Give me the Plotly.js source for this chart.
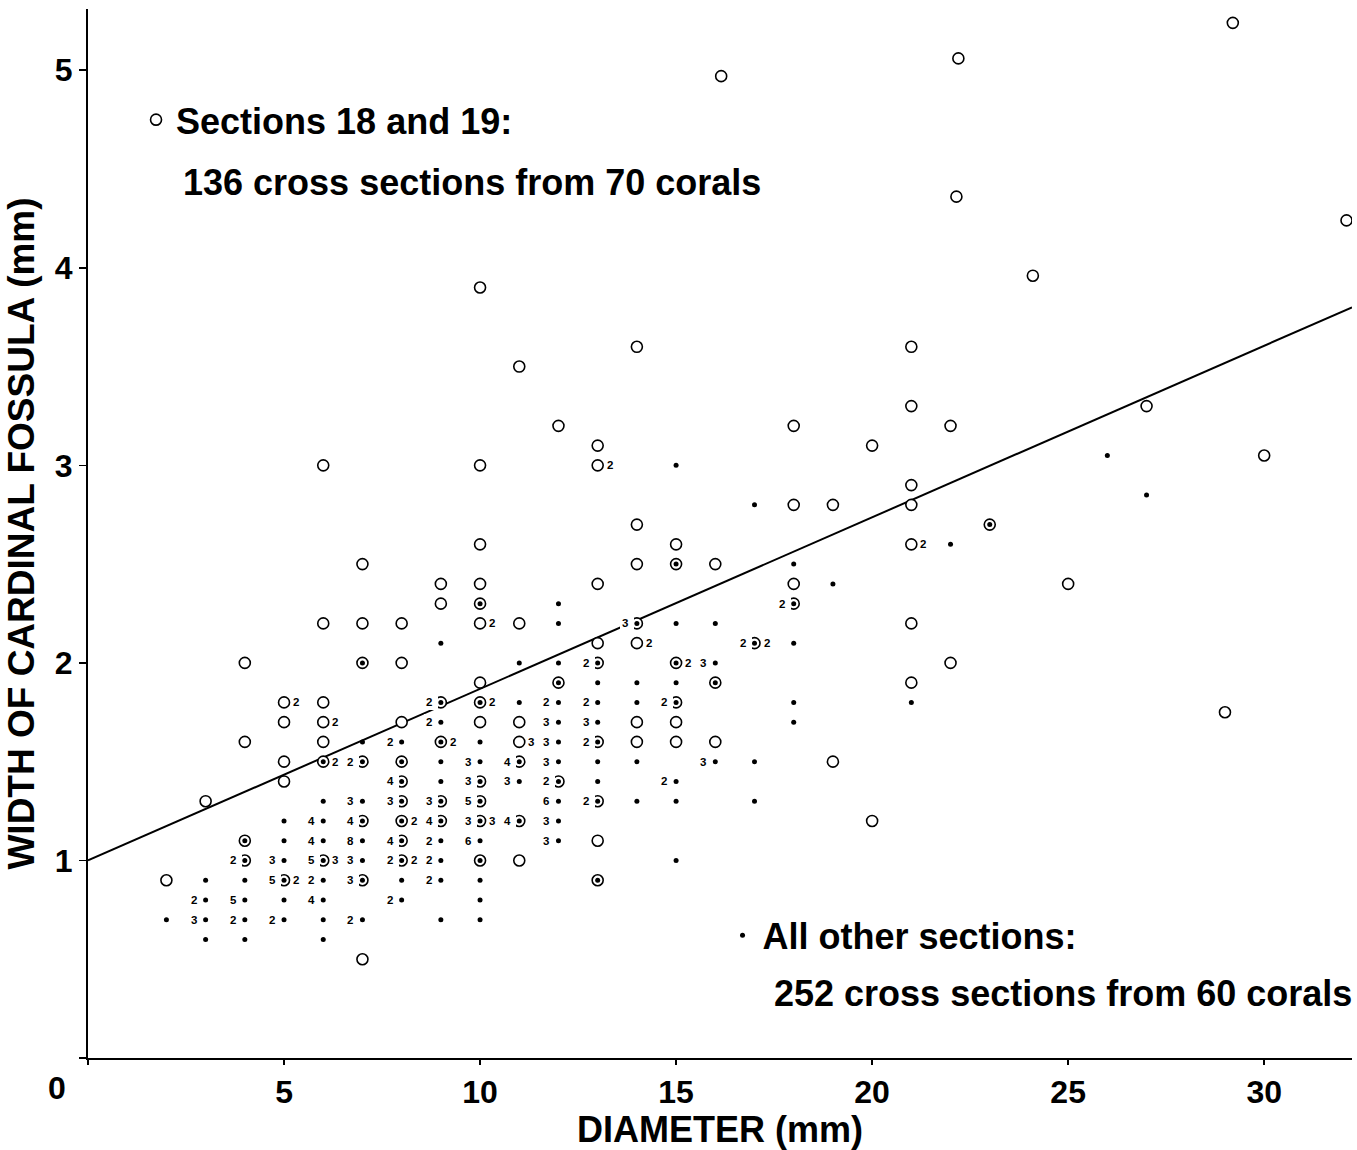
<!DOCTYPE html>
<html><head><meta charset="utf-8">
<script src="https://cdn.plot.ly/plotly-3.0.1.min.js"></script>
<style>html,body{margin:0;padding:0;background:#fff}</style>
</head><body>
<div id="chart" style="width:1357px;height:1150px"></div>
<script>
// Sections 18 and 19 (open circles): diameter (mm), width of cardinal fossula (mm), number of sections at that point
const sec1819X = [
  2,
  3,
  4,4,4,4,
  5,5,5,5,5,
  6,6,6,6,6,6,6,
  7,7,7,7,7,7,7,
  8,8,8,8,8,8,8,8,8,
  9,9,9,9,9,9,
  10,10,10,10,10,10,10,10,10,10,10,10,10,
  11,11,11,11,11,11,11,
  12,12,12,
  13,13,13,13,13,13,13,13,13,
  14,14,14,14,14,14,14,
  15,15,15,15,15,15,
  16.15,16,16,16,
  17,
  18,18,18,18,
  19,19,
  20,20,
  21,21,21,21,21,21,21,
  22.2,22.15,22,22,
  23, 24.1, 25, 27, 29.2, 29, 30, 32.1
];
const sec1819Y = [
  0.9,
  1.3,
  2.0,1.6,1.1,1.0,
  1.8,1.7,1.5,1.4,0.9,
  3.0,2.2,1.8,1.7,1.6,1.5,1.0,
  2.5,2.2,2.0,1.5,1.2,0.9,0.5,
  2.2,2.0,1.7,1.5,1.4,1.3,1.2,1.1,1.0,
  2.4,2.3,1.8,1.6,1.3,1.2,
  3.9,3.0,2.6,2.4,2.3,2.2,1.9,1.8,1.7,1.4,1.3,1.2,1.0,
  3.5,2.2,1.7,1.6,1.5,1.2,1.0,
  3.2,1.9,1.4,
  3.1,3.0,2.4,2.1,2.0,1.6,1.3,1.1,0.9,
  3.6,2.7,2.5,2.2,2.1,1.7,1.6,
  2.6,2.5,2.0,1.8,1.7,1.6,
  4.97,2.5,1.9,1.6,
  2.1,
  3.2,2.8,2.4,2.3,
  2.8,1.5,
  3.1,1.2,
  3.6,3.3,2.9,2.8,2.6,2.2,1.9,
  5.06,4.36,3.2,2.0,
  2.7, 3.96, 2.4, 3.3, 5.24, 1.75, 3.05, 4.24
];
const sec1819N = [
  1,
  1,
  1,1,1,1,
  2,1,1,1,2,
  1,1,1,2,1,2,3,
  1,1,1,1,1,1,1,
  1,1,1,1,1,1,2,1,2,
  1,1,1,2,1,1,
  1,1,1,1,1,2,1,2,1,1,1,3,1,
  1,1,1,3,1,1,1,
  1,1,1,
  1,2,1,1,1,1,1,1,1,
  1,1,1,1,2,1,1,
  1,1,2,1,1,1,
  1,1,1,1,
  2,
  1,1,1,1,
  1,1,
  1,1,
  1,1,1,1,2,1,1,
  1,1,1,1,
  1,1,1,1,1,1,1,1
];

// All other sections (dots)
const otherX = [
  2,
  3,3,3,3,
  4,4,4,4,4,4,
  5,5,5,5,5,5,
  6,6,6,6,6,6,6,6,6,
  7,7,7,7,7,7,7,7,7,
  8,8,8,8,8,8,8,8,8,
  9,9,9,9,9,9,9,9,9,9,9,9,
  10,10,10,10,10,10,10,10,10,10,10,10,
  11,11,11,11,11,
  12,12,12,12,12,12,12,12,12,12,12,12,
  13,13,13,13,13,13,13,13,13,
  14,14,14,14,14,
  15,15,15,15,15,15,15,15,15,
  16,16,16,16,
  17,17,17,17,
  18,18,18,18,18,
  19, 21, 22, 23, 26, 27
];
const otherY = [
  0.7,
  0.9,0.8,0.7,0.6,
  1.1,1.0,0.9,0.8,0.7,0.6,
  1.2,1.1,1.0,0.9,0.8,0.7,
  1.5,1.3,1.2,1.1,1.0,0.9,0.8,0.7,0.6,
  2.0,1.6,1.5,1.3,1.2,1.1,1.0,0.9,0.7,
  1.6,1.5,1.4,1.3,1.2,1.1,1.0,0.9,0.8,
  2.1,1.8,1.7,1.6,1.5,1.4,1.3,1.2,1.1,1.0,0.9,0.7,
  2.3,1.8,1.6,1.5,1.4,1.3,1.2,1.1,1.0,0.9,0.8,0.7,
  2.0,1.8,1.5,1.4,1.2,
  2.3,2.2,2.0,1.9,1.8,1.7,1.6,1.5,1.4,1.3,1.2,1.1,
  2.0,1.9,1.8,1.7,1.6,1.5,1.4,1.3,0.9,
  2.2,1.9,1.8,1.5,1.3,
  3.0,2.5,2.2,2.0,1.9,1.8,1.4,1.3,1.0,
  2.2,2.0,1.9,1.5,
  2.8,2.1,1.5,1.3,
  2.5,2.3,2.1,1.8,1.7,
  2.4, 1.8, 2.6, 2.7, 3.05, 2.85
];
const otherN = [
  1,
  1,2,3,1,
  1,2,1,5,2,1,
  1,1,3,5,1,2,
  1,1,4,4,5,2,4,1,1,
  1,1,2,3,4,8,3,3,2,
  2,1,4,3,1,4,2,1,2,
  1,2,2,1,1,1,3,4,2,2,2,1,
  1,1,1,3,3,5,3,6,1,1,1,1,
  1,1,4,3,4,
  1,1,1,1,2,3,3,3,2,6,3,3,
  2,1,2,3,2,1,1,2,1,
  3,1,1,1,1,
  1,1,1,1,1,2,2,1,1,
  1,3,1,3,
  1,2,1,1,
  1,2,1,1,1,
  1, 1, 1, 1, 1, 1
];

// Fitted regression line
const fitX = [0, 32.24];
const fitY = [1.0, 3.8];

// Axis ticks
const xTickVals = [0, 5, 10, 15, 20, 25, 30];
const xTickText = ['', '5', '10', '15', '20', '25', '30'];
const yTickVals = [0, 1, 2, 3, 4, 5];
const yTickText = ['', '1', '2', '3', '4', '5'];

// Texts
const xTitle = 'DIAMETER (mm)';
const yTitle = 'WIDTH OF CARDINAL FOSSULA (mm)';
const sec1819Name = 'Sections 18 and 19:';
const sec1819Note = '136 cross sections from 70 corals';
const otherName = 'All other sections:';
const otherNote = '252 cross sections from 60 corals';
const originLabel = '0';

const FONT = 'Liberation Sans, Arial, Helvetica, sans-serif';
const bigFont = {family: FONT, size: 36, color: '#000', weight: 'bold'};
const yTitleFont = {family: FONT, size: 37, color: '#000', weight: 'bold'};
const tickFont = {family: FONT, size: 32, color: '#000', weight: 'bold'};

const traces = [
  {
    type: 'scatter', mode: 'lines', x: fitX, y: fitY,
    line: {color: '#000', width: 2}, showlegend: false, hoverinfo: 'skip'
  },
  {
    type: 'scatter', mode: 'markers', x: sec1819X, y: sec1819Y, name: sec1819Name,
    legend: 'legend',
    marker: {symbol: 'circle', size: 11, color: '#fff', line: {color: '#000', width: 1.6}}
  },
  {
    type: 'scatter', mode: 'markers', x: otherX, y: otherY, name: otherName,
    legend: 'legend2',
    marker: {symbol: 'circle', size: 5, color: '#000', line: {width: 0}}
  }
];

const annotations = [];
sec1819N.forEach(function (n, i) {
  if (n > 1) {
    annotations.push({
      x: sec1819X[i], y: sec1819Y[i], xref: 'x', yref: 'y',
      text: '<b>' + n + '</b>', showarrow: false,
      xanchor: 'left', yanchor: 'middle', xshift: 7,
      font: {family: FONT, size: 11.5, color: '#000'}
    });
  }
});
otherN.forEach(function (n, i) {
  if (n > 1) {
    annotations.push({
      x: otherX[i], y: otherY[i], xref: 'x', yref: 'y',
      text: '<b>' + n + '</b>\u00a0', showarrow: false,
      xanchor: 'right', yanchor: 'middle', xshift: -3,
      bgcolor: '#fff', borderpad: 2, borderwidth: 0,
      font: {family: FONT, size: 11.5, color: '#000'}
    });
  }
});
annotations.push({
  xref: 'paper', yref: 'paper', x: 0.0735, y: 0.8343,
  xanchor: 'left', yanchor: 'middle', showarrow: false,
  text: sec1819Note, font: bigFont
});
annotations.push({
  xref: 'paper', yref: 'paper', x: 0.5415, y: 0.0617,
  xanchor: 'left', yanchor: 'middle', showarrow: false,
  text: otherNote, font: bigFont
});
annotations.push({
  xref: 'paper', yref: 'paper', x: -0.0245, y: -0.029,
  xanchor: 'center', yanchor: 'middle', showarrow: false,
  text: originLabel, font: tickFont
});

const layout = {
  width: 1357, height: 1150,
  margin: {l: 88, r: 5, t: 9, b: 92},
  paper_bgcolor: '#fff', plot_bgcolor: '#fff',
  font: {family: FONT, color: '#000'},
  xaxis: {
    range: [0, 32.24], showgrid: false, zeroline: false,
    showline: true, linecolor: '#000', linewidth: 2,
    ticks: 'outside', ticklen: 5, tickwidth: 1.5, tickcolor: '#000',
    tickvals: xTickVals, ticktext: xTickText,
    tickfont: tickFont,
    ticklabelstandoff: 0,
    title: {text: xTitle, font: bigFont, standoff: 10}
  },
  yaxis: {
    range: [0, 5.31], showgrid: false, zeroline: false,
    showline: true, linecolor: '#000', linewidth: 2,
    ticks: 'outside', ticklen: 7, tickwidth: 1.5, tickcolor: '#000',
    tickvals: yTickVals, ticktext: yTickText,
    tickfont: tickFont,
    ticklabelstandoff: 0,
    title: {text: yTitle, font: yTitleFont, standoff: 9}
  },
  legend: {
    x: 0.038, y: 0.8944, xanchor: 'left', yanchor: 'middle',
    bgcolor: 'rgba(0,0,0,0)', borderwidth: 0,
    font: bigFont
  },
  legend2: {
    x: 0.502, y: 0.117, xanchor: 'left', yanchor: 'middle',
    bgcolor: 'rgba(0,0,0,0)', borderwidth: 0,
    font: bigFont
  },
  annotations: annotations,
  showlegend: true
};

Plotly.newPlot('chart', traces, layout, {staticPlot: true, displayModeBar: false});
</script>
</body></html>
